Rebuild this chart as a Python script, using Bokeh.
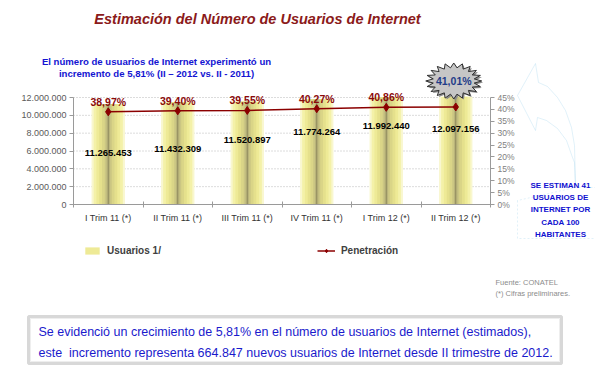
import numpy as np
from bokeh.plotting import figure
from bokeh.models import (Range1d, LinearAxis, FixedTicker, Label, PolyAnnotation,
                          Legend, LegendItem, ColumnDataSource)
from bokeh.core.properties import value
from bokeh.embed import file_html
from bokeh.resources import INLINE

# ---------------- data ----------------
categories = ["I Trim 11 (*)", "II Trim 11 (*)", "III Trim 11 (*)",
              "IV Trim 11 (*)", "I Trim 12 (*)", "II Trim 12 (*)"]
usuarios = [11265453, 11432309, 11520897, 11774264, 11992440, 12097156]
penetracion = [38.97, 39.40, 39.55, 40.27, 40.86, 41.01]
left_ticks = [0, 2000000, 4000000, 6000000, 8000000, 10000000, 12000000]
right_ticks = [0, 5, 10, 15, 20, 25, 30, 35, 40, 45]

title_text = "Estimación del Número de Usuarios de Internet"
subtitle_lines = ["El número de usuarios de Internet experimentó un",
                  "incremento de 5,81% (II \u2013 2012 vs. II - 2011)"]
callout_lines = ["SE ESTIMAN 41", "USUARIOS DE", "INTERNET POR", "CADA 100", "HABITANTES"]
source_lines = ["Fuente: CONATEL", "(*) Cifras preliminares."]
box_lines = ["Se evidenció un crecimiento de 5,81% en el número de usuarios de Internet (estimados),",
             "este \u00a0incremento representa 664.847 nuevos usuarios de Internet desde II trimestre de 2012."]

# ---------------- geometry (canvas pixels) ----------------
W, H = 595, 373
AX_L, AX_R = 73, 490        # left / right axis x
AX_0 = 204                  # zero line y (from top)
PX_FULL = 107.0             # pixels from 0 to 12.000.000 / 45 %
n = len(categories)
ux = (AX_R - AX_L) / n      # pixels per category
Y_MAX, P_MAX = 12e6, 45.0
FONT = "Liberation Sans"


def dx(px):
    return (px - AX_L) / ux


def dy(py):
    return (AX_0 - py) / PX_FULL * Y_MAX


p = figure(width=W, height=H, output_backend="svg", toolbar_location=None,
           x_range=Range1d(dx(0), dx(W)), y_range=Range1d(dy(H), dy(0)),
           min_border=0)
p.extra_y_ranges = {"pct": Range1d((AX_0 - H) / PX_FULL * P_MAX, AX_0 / PX_FULL * P_MAX)}
p.outline_line_color = None
p.background_fill_color = "white"
p.border_fill_color = "white"
p.grid.visible = False

xc = [i + 0.5 for i in range(n)]

# grid lines (dotted) at left ticks, only across the chart
p.segment(x0=[0] * len(left_ticks), x1=[n] * len(left_ticks), y0=left_ticks, y1=left_ticks,
          line_color="#b8b8b8", line_dash="1 2", line_width=1)

# left axis
ya = p.yaxis[0]
ya.fixed_location = 0
ya.ticker = FixedTicker(ticks=left_ticks, minor_ticks=[])
ya.bounds = (0, Y_MAX)
ya.major_label_overrides = {t: f"{t:,}".replace(",", ".") for t in left_ticks}
ya.axis_line_color = "#9a9a9a"
ya.major_tick_line_color = "#9a9a9a"
ya.major_tick_in = 0
ya.major_tick_out = 4
ya.minor_tick_line_color = None
ya.major_label_text_font = FONT
ya.major_label_text_font_size = "9px"
ya.major_label_text_color = "#5a5a5a"
ya.major_label_standoff = 3

# right axis
ra = LinearAxis(y_range_name="pct", ticker=FixedTicker(ticks=right_ticks, minor_ticks=[]))
ra.fixed_location = n
ra.bounds = (0, P_MAX)
ra.major_label_overrides = {t: f"{t}%" for t in right_ticks}
ra.axis_line_color = "#9a9a9a"
ra.major_tick_line_color = "#9a9a9a"
ra.major_tick_in = 0
ra.major_tick_out = 4
ra.minor_tick_line_color = None
ra.major_label_text_font = FONT
ra.major_label_text_font_size = "8.5px"
ra.major_label_text_color = "#808080"
ra.major_label_standoff = 3
p.add_layout(ra, "right")

# x axis
xa = p.xaxis[0]
xa.fixed_location = 0
xa.bounds = (0, n)
xa.ticker = FixedTicker(ticks=xc, minor_ticks=list(range(n + 1)))
xa.major_label_overrides = {c: lab for c, lab in zip(xc, categories)}
xa.axis_line_color = "#9a9a9a"
xa.major_tick_line_color = None
xa.major_tick_in = 0
xa.major_tick_out = 0
xa.minor_tick_line_color = "#9a9a9a"
xa.minor_tick_in = 3
xa.minor_tick_out = 3
xa.major_label_text_font = FONT
xa.major_label_text_font_size = "9px"
xa.major_label_text_color = "#333333"
xa.major_label_standoff = 5

# bars (glowing columns built from stripes)
src = ColumnDataSource(dict(x=xc, top=usuarios,
                            lab=[f"{v:,}".replace(",", ".") for v in usuarios]))
stripes = [(0.48, "#f9f7cf"), (0.42, "#f4f1a8"), (0.34, "#eeea96"), (0.26, "#e5e08c"),
           (0.18, "#dad587"), (0.10, "#cbc683"), (0.05, "#b9b47a"), (0.012, "#8a845a")]
bar_renderers = []
for w, col in stripes:
    r = p.vbar(x="x", top="top", bottom=0, width=w, source=src,
               fill_color=col, line_color=None)
    bar_renderers.append(r)

# value labels
value_label_dy = [49, 46, 38, 32, 28, 32]
for i in range(n):
    p.text(x=[xc[i]], y=[usuarios[i]], text=[src.data["lab"][i]],
           text_font=value(FONT), text_font_style="bold", text_font_size="9.5px",
           text_color="black", text_align="center", text_baseline="middle",
           y_offset=value_label_dy[i])

# penetration line
lr = p.line(xc, penetracion, y_range_name="pct", line_color="#8b0000", line_width=1.5)
mr = p.scatter(xc, penetracion, y_range_name="pct", marker="diamond", size=8,
               fill_color="#8b0000", line_color="#8b0000")
pct_labels = [f"{v:.2f}%".replace(".", ",") for v in penetracion]
p.text(x=xc[:-1], y=penetracion[:-1], text=pct_labels[:-1], y_range_name="pct",
       text_font=value(FONT), text_font_style="bold", text_font_size="10.5px",
       text_color="#8b0a0a", text_align="center", text_baseline="bottom", y_offset=-4)

# starburst around the last value
px_pct = P_MAX / PX_FULL
px_x = 1 / ux
cx, cy = xc[-1] - 2 * px_x, penetracion[-1] + 26 * px_pct
k = 20
ang = np.linspace(0, 2 * np.pi, 2 * k, endpoint=False)
rad = np.where(np.arange(2 * k) % 2 == 0, 1.0, 0.74)
sx = cx + 28 * px_x * rad * np.cos(ang)
sy = cy + 18 * px_pct * rad * np.sin(ang)
p.patch(sx + 1.5 * px_x, sy - 1.5 * px_pct, y_range_name="pct", fill_color="#8a8a8a",
        line_color=None)
p.patch(sx, sy, y_range_name="pct", fill_color="#c6c6c6", line_color="#303030", line_width=1)
p.text(x=[cx], y=[cy], text=[pct_labels[-1]], y_range_name="pct",
       text_font=value(FONT), text_font_style="bold", text_font_size="10.5px",
       text_color="#1f3c88", text_align="center", text_baseline="middle")

# legend
legend = Legend(items=[LegendItem(label="Usuarios 1/", renderers=[bar_renderers[2]]),
                       LegendItem(label="Penetración", renderers=[lr, mr])],
                location=(83, H - 257), orientation="horizontal")
legend.border_line_color = None
legend.background_fill_alpha = 0
legend.padding = 0
legend.margin = 0
legend.spacing = 156
legend.glyph_width = 18
legend.glyph_height = 9
legend.label_height = 14
legend.label_standoff = 6
legend.label_text_font = FONT
legend.label_text_font_style = "bold"
legend.label_text_font_size = "10px"
legend.label_text_color = "#404040"
p.add_layout(legend)

# texts around the chart
p.add_layout(Label(x=dx(257), y=dy(18), text=title_text, text_align="center",
                   text_baseline="middle", text_font=FONT, text_font_style="bold italic",
                   text_font_size="14.5px", text_color="#8b1a1a"))
for i, t in enumerate(subtitle_lines):
    p.add_layout(Label(x=dx(156), y=dy(60.5 + 12.5 * i), text=t, text_align="center",
                       text_baseline="middle", text_font=FONT, text_font_style="bold",
                       text_font_size="9.6px", text_color="#1414d2"))

# curved arrow callout
arrow_pts = [(535, 63), (538, 82), (547, 86), (557, 97), (565, 110), (571, 127),
             (574, 145), (575, 187), (574, 162), (572, 157), (566, 140), (557, 128),
             (546, 120), (537, 117), (535, 130), (517, 95)]
p.add_layout(PolyAnnotation(xs=[dx(a) for a, b in arrow_pts], ys=[dy(b) for a, b in arrow_pts],
                            fill_alpha=0, line_color="#9ccfea", line_width=1))
box_pts = [(517, 200), (517, 238), (600, 238), (600, 187), (575, 187)]
p.add_layout(PolyAnnotation(xs=[dx(a) for a, b in box_pts], ys=[dy(b) for a, b in box_pts],
                            fill_alpha=0, line_color="#9ccfea", line_width=1, line_dash="2 2"))
for i, t in enumerate(callout_lines):
    p.add_layout(Label(x=dx(560), y=dy(185 + 12.2 * i), text=t, text_align="center",
                       text_baseline="middle", text_font=FONT, text_font_style="bold",
                       text_font_size="8px", text_color="#1010d0"))

for i, t in enumerate(source_lines):
    p.add_layout(Label(x=dx(495), y=dy(282 + 11 * i), text=t, text_align="left",
                       text_baseline="middle", text_font=FONT, text_font_size="7.5px",
                       text_color="#8c8c8c"))

# bottom message box
bb = [(28, 316), (561, 316), (561, 363), (28, 363)]
p.add_layout(PolyAnnotation(xs=[dx(a) for a, b in bb], ys=[dy(b) for a, b in bb],
                            fill_color="white", fill_alpha=1, line_color="#7f7f7f", line_width=3))
bb2 = [(30, 318), (559, 318), (559, 361), (30, 361)]
p.add_layout(PolyAnnotation(xs=[dx(a) for a, b in bb2], ys=[dy(b) for a, b in bb2],
                            fill_alpha=0, line_color="#c8c8c8", line_width=1))
for i, t in enumerate(box_lines):
    p.add_layout(Label(x=dx(38), y=dy(331 + 21 * i), text=t, text_align="left",
                       text_baseline="middle", text_font=FONT, text_font_size="12.5px",
                       text_color="#1a1acc"))

open("out.html", "w").write(file_html(p, INLINE))
